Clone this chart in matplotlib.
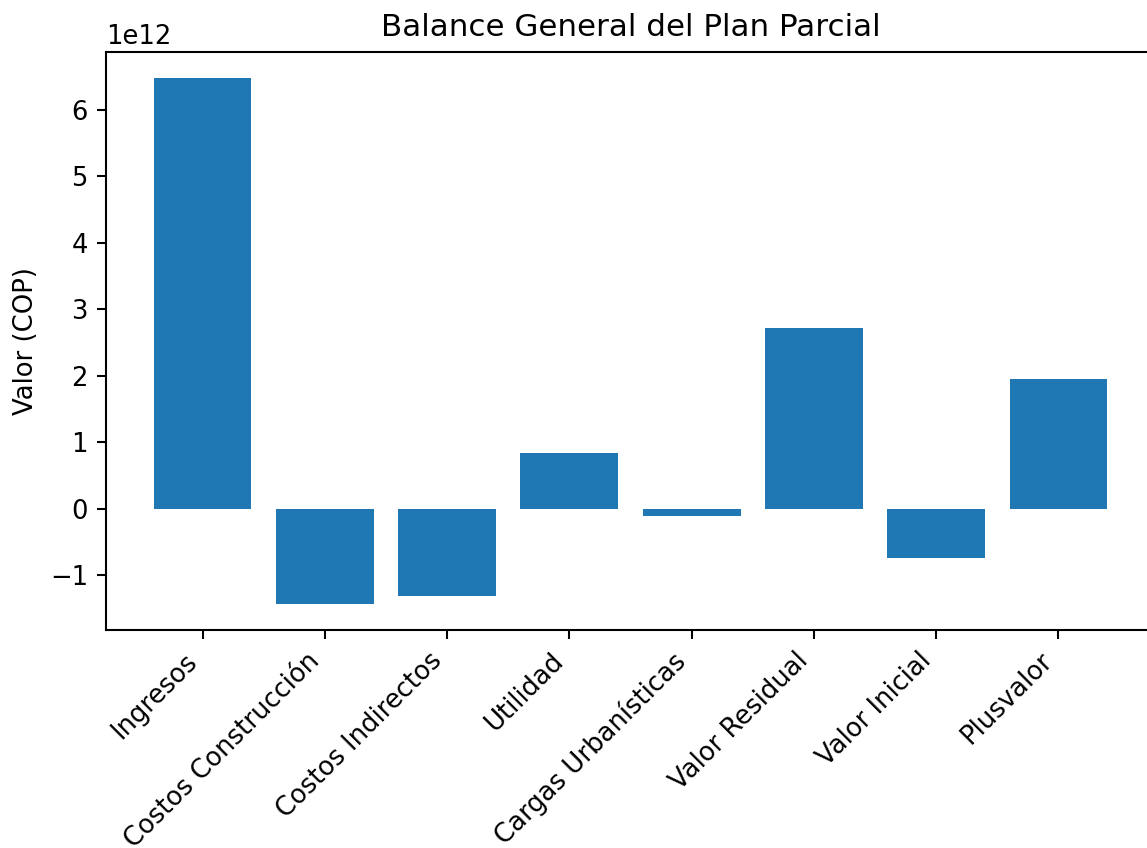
import matplotlib
matplotlib.use("Agg")
import matplotlib.pyplot as plt

categories = ["Ingresos", "Costos Construcción", "Costos Indirectos", "Utilidad",
              "Cargas Urbanísticas", "Valor Residual", "Valor Inicial", "Plusvalor"]
values = [6.47e12, -1.43e12, -1.32e12, 0.84e12, -0.105e12, 2.71e12, -0.75e12, 1.955e12]

dpi = 186
W, H = 1147, 848
fig = plt.figure(figsize=(W / dpi, H / dpi), dpi=dpi)
ax = fig.add_axes([106 / W, 1 - 630 / H, 1049 / W, (630 - 52) / H])
ax.bar(categories, values, color="#1f77b4")
ax.set_title("Balance General del Plan Parcial")
ax.set_ylabel("Valor (COP)")
plt.setp(ax.get_xticklabels(), rotation=45, ha="right")
fig.savefig("out.png", dpi=dpi)
